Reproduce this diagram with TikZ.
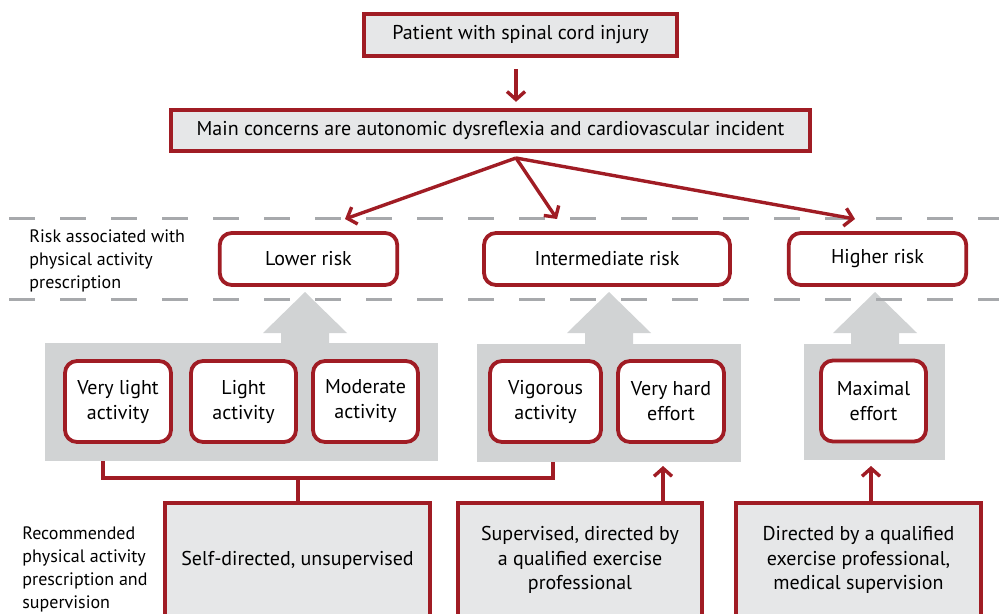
\documentclass[tikz,border=0pt]{standalone}
\usepackage{fontspec}
\setmainfont{PT Sans}
\usetikzlibrary{arrows.meta, calc, positioning}
\usepackage{xcolor}
\definecolor{sciRed}{RGB}{160,28,36}
\definecolor{boxGray}{RGB}{230,231,232}
\definecolor{panelGray}{RGB}{209,211,212}
\definecolor{dashGray}{RGB}{167,169,172}
\tikzset{
  topbox/.style ={draw=sciRed, fill=boxGray, line width=2.2pt, inner sep=0pt, font=\fontsize{10}{12}\selectfont},
  riskbox/.style={draw=sciRed, fill=white, rounded corners=6pt, line width=1.9pt, minimum height=26pt, inner sep=0pt, font=\fontsize{10}{12}\selectfont},
  actbox/.style ={draw=sciRed, fill=white, rounded corners=6pt, line width=1.9pt, minimum height=40.5pt, inner sep=0pt, align=center, font=\fontsize{10}{12.5}\selectfont},
  supbox/.style ={draw=sciRed, fill=boxGray, line width=2.2pt, minimum height=57pt, inner sep=0pt, align=center, font=\fontsize{10}{12.3}\selectfont},
  panel/.style  ={fill=panelGray},
  arr/.style    ={-{Straight Barb[length=4pt,width=9pt]}, line width=1.7pt, sciRed},
  link/.style   ={line width=2pt, sciRed},
  sep/.style    ={dashGray, line width=1.5pt, dash pattern=on 13pt off 12.5pt},
  lbl/.style    ={align=left, inner sep=0pt, font=\fontsize{9}{11.5}\selectfont},
}
\begin{document}
\begin{tikzpicture}[x=0.5pt, y=-0.5pt]
  \useasboundingbox (0,0) rectangle (999,614);

  % top of the chart
  \node[topbox, minimum width=156.5pt, minimum height=21pt] (patient) at (520.5,35) {Patient with spinal cord injury};
  \node[topbox, minimum width=319.5pt, minimum height=20.5pt] (concerns) at (490.5,130.5) {Main concerns are autonomic dysreflexia and cardiovascular incident};
  \coordinate (split) at (516,158);
  \draw[arr, shorten <=5.5pt, shorten >=3pt] (split |- patient.south) -- (split |- concerns.north);

  % grey panels with their arrows
  \fill[panel] (45,343) rectangle (438,461);
  \fill[panel] (477,344) rectangle (741,462);
  \fill[panel] (804,344) rectangle (945,460);
  \foreach \ax in {305,609,875}
    \fill[panel] (\ax-24,345) -- (\ax-24,333) -- (\ax-42,333) -- (\ax,292)
                 -- (\ax+42,333) -- (\ax+24,333) -- (\ax+24,345) -- cycle;

  % risk band
  \draw[sep] (9,219) -- (999,219);
  \draw[sep] (9,299) -- (999,299);
  \node[lbl, anchor=west] (risklbl) at (29,261) {Risk associated with\\physical activity\\prescription};
  \node[riskbox, minimum width=88.75pt] (lower) at (308.5,259) {Lower risk};
  \node[riskbox, minimum width=123pt] (inter) at (607,259) {Intermediate risk};
  \node[riskbox, minimum width=88.75pt] (higher) at (877.5,259) {Higher risk};

  \coordinate (lowtip) at (345,219);
  \coordinate (midtip) at (557,219);
  \coordinate (hightip) at (855,219);
  \draw[arr] (split) -- (lowtip);
  \draw[arr] (split) -- (midtip);
  \draw[arr] (split) -- (hightip);

  % activities
  \node[actbox, minimum width=53pt] (vlight) at (118,401.5) {Very light\\activity};
  \node[actbox, minimum width=52.5pt] (light) at (243.5,401.5) {Light\\activity};
  \node[actbox, minimum width=52.5pt] (moder) at (365.5,401.5) {Moderate\\activity};
  \node[actbox, minimum width=55.5pt] (vig) at (545.5,401.5) {Vigorous\\activity};
  \node[actbox, minimum width=53pt] (vhard) at (671,401.5) {Very hard\\effort};
  \node[actbox, minimum width=52.5pt] (maxim) at (873.5,401) {Maximal\\effort};

  % supervision
  \node[lbl, anchor=west] (suplbl) at (22,569) {Recommended\\physical activity\\prescription and\\supervision};
  \node[supbox, minimum width=132.5pt] (self) at (297.5,560) {Self-directed, unsupervised};
  \node[supbox, minimum width=122pt] (sup) at (580,560) {Supervised, directed by\\a qualified exercise\\professional};
  \node[supbox, minimum width=122.5pt] (dir) at (858.5,560) {Directed by a qualified\\exercise professional,\\medical supervision};

  \coordinate (bl) at (103,461);
  \coordinate (br) at (553,462);
  \draw[link] (bl) |- (br |- 0,478) -- (br);
  \draw[link] (self.north) -- (self.north |- 0,478);
  \coordinate (suptip) at (663,466);
  \coordinate (dirtip) at (871,466);
  \draw[arr] (suptip |- sup.north) -- (suptip);
  \draw[arr] (dirtip |- dir.north) -- (dirtip);
\end{tikzpicture}
\end{document}
